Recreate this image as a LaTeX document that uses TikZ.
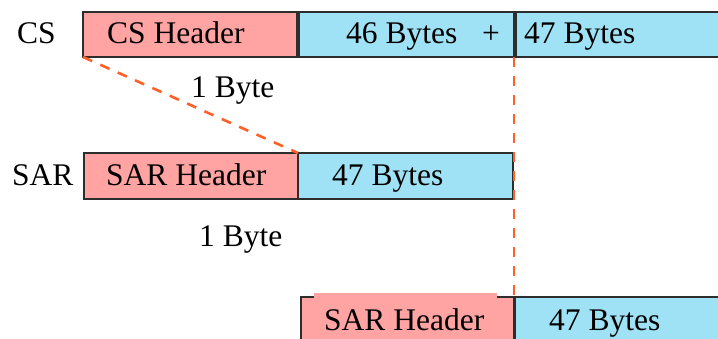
\documentclass[tikz,border=0pt]{standalone}
\usepackage{fontspec}
\setmainfont{Liberation Serif}
\usetikzlibrary{calc}
\definecolor{hdrpink}{RGB}{255,163,163}
\definecolor{datablue}{RGB}{160,226,245}
\definecolor{dashorange}{RGB}{255,95,40}
\definecolor{edgegray}{RGB}{45,45,45}
\tikzset{
  cell/.style={draw=edgegray, line width=1.4pt, inner sep=0pt, outer sep=0pt, anchor=north west},
  hdrcell/.style={cell, fill=hdrpink},
  datacell/.style={cell, fill=datablue},
  lbl/.style={anchor=base west, inner sep=0pt, font=\fontsize{31.5}{36}\selectfont},
  guide/.style={draw=dashorange, line width=2.6pt, dash pattern=on 10pt off 9pt}
}
\begin{document}
\begin{tikzpicture}[x=1pt,y=-1pt]
\clip (0,0) rectangle (718,338);
\fill[white] (0,0) rectangle (718,338);
% row 1 (CS)
\node[hdrcell, minimum width=214pt, minimum height=45pt] (cshdr) at (83,12) {};
\node[datacell, minimum width=215pt, minimum height=45pt] (cs46) at (299,12) {};
\node[datacell, minimum width=220pt, minimum height=45pt] (cs47) at (516,12) {};
% row 2 (SAR)
\node[hdrcell, minimum width=214pt, minimum height=46pt] (sarhdr) at (84,153) {};
\node[datacell, minimum width=215pt, minimum height=46pt] (sar47) at (298,153) {};
% row 3 (SAR)
\node[hdrcell, minimum width=213pt, minimum height=48pt] (sarhdrb) at (301,297) {};
\fill[hdrpink] (314,293) rectangle (497,298.5);
\node[datacell, minimum width=215pt, minimum height=48pt] (sar47b) at (515,297) {};
% labels
\node[lbl] (cslbl) at (17,43) {CS};
\node[lbl] (cshdrtxt) at (107,43) {CS Header};
\node[lbl] (cs46txt) at (346,43) {46 Bytes};
\node[lbl] (plustxt) at (482,43) {+};
\node[lbl] (cs47txt) at (524,43) {47 Bytes};
\node[lbl] (onebyte1) at (191,97) {1 Byte};
\node[lbl] (sarlbl) at (12,185) {SAR};
\node[lbl] (sarhdrtxt) at (106,185) {SAR Header};
\node[lbl] (sar47txt) at (332,185) {47 Bytes};
\node[lbl] (onebyte2) at (199,246) {1 Byte};
\node[lbl] (sarhdrbtxt) at (324,330) {SAR Header};
\node[lbl] (sar47btxt) at (549,330) {47 Bytes};
% dashed guides
\draw[guide] (cshdr.south west) -- (sarhdr.north east);
\draw[guide] (sarhdrb.north east |- cs46.south east) -- (sarhdrb.north east);
\end{tikzpicture}
\end{document}
